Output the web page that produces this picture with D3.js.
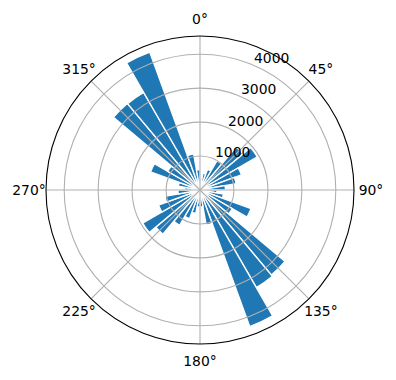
<!DOCTYPE html>
<html>
<head>
<meta charset="utf-8">
<script src="https://cdn.jsdelivr.net/npm/d3@7"></script>
<style>
  body { margin: 0; background: #fff; }
  text { font-family: "DejaVu Sans", sans-serif; font-size: 13.9px; fill: #000; }
</style>
</head>
<body>
<div id="chart"></div>
<script>
// bar centres, degrees clockwise from north (10 degree bins)
const directions = [5, 15, 25, 35, 45, 55, 65, 75, 85, 95, 105, 115,
    125, 135, 145, 155, 165, 175, 185, 195, 205, 215, 225, 235,
    245, 255, 265, 275, 285, 295, 305, 315, 325, 335, 345, 355];
// counts per bin
const counts = [350, 500, 650, 1000, 1650, 1950, 1300, 1080, 750, 500, 700, 1600,
    1100, 3270, 3320, 4280, 1050, 500, 500, 700, 900, 1200, 1700, 1950,
    1300, 1050, 650, 450, 650, 1550, 1100, 3330, 3320, 4320, 1080, 600];
const binWidth = 10;
const angleTicks = [0, 45, 90, 135, 180, 225, 270, 315];
const radialTicks = [1000, 2000, 3000, 4000];

const width = 396, height = 380;
const cx = 200, cy = 190, outer = 154;

const svg = d3.select("#chart").append("svg")
    .attr("width", width)
    .attr("height", height);

const g = svg.append("g")
    .attr("transform", `translate(${cx},${cy})`);

// radius scale, autoscaled with 5% margin like matplotlib
let r = d3.scaleLinear()
    .domain([0, d3.max(counts) * 1.05])
    .range([0, outer]);

let rad = d => d * Math.PI / 180;

// bars
let arc = d3.arc()
    .innerRadius(0)
    .outerRadius(d => r(d.value))
    .startAngle(d => rad(d.dir - binWidth / 2))
    .endAngle(d => rad(d.dir + binWidth / 2));

let bars = directions.map((d, i) => ({dir: d, value: counts[i]}));

g.selectAll(".bar")
    .data(bars)
    .enter()
    .append("path")
    .attr("class", "bar")
    .attr("d", arc)
    .attr("fill", "#1f77b4")
    .attr("stroke", "#fff")
    .attr("stroke-width", 1.4)
    .attr("stroke-linejoin", "miter");

// grid circles
g.selectAll(".rgrid")
    .data(radialTicks)
    .enter()
    .append("circle")
    .attr("class", "rgrid")
    .attr("r", d => r(d))
    .attr("fill", "none")
    .attr("stroke", "#b0b0b0")
    .attr("stroke-width", 1.1);

// spokes
g.selectAll(".tgrid")
    .data(angleTicks)
    .enter()
    .append("line")
    .attr("class", "tgrid")
    .attr("x1", 0)
    .attr("y1", 0)
    .attr("x2", d => outer * Math.sin(rad(d)))
    .attr("y2", d => -outer * Math.cos(rad(d)))
    .attr("stroke", "#b0b0b0")
    .attr("stroke-width", 1.1);

// outer spine
g.append("circle")
    .attr("r", outer)
    .attr("fill", "none")
    .attr("stroke", "#000")
    .attr("stroke-width", 1.1);

// angle labels
const labelR = outer + 17;
g.selectAll(".tlabel")
    .data(angleTicks)
    .enter()
    .append("text")
    .attr("class", "tlabel")
    .attr("x", d => labelR * Math.sin(rad(d)))
    .attr("y", d => -labelR * Math.cos(rad(d)))
    .attr("text-anchor", "middle")
    .attr("dominant-baseline", "central")
    .text(d => d + "°");

// radial labels at 22.5 degrees
const rlabelAngle = rad(22.5);
g.selectAll(".rlabel")
    .data(radialTicks)
    .enter()
    .append("text")
    .attr("class", "rlabel")
    .attr("x", d => r(d) * Math.sin(rlabelAngle) + 2)
    .attr("y", d => -r(d) * Math.cos(rlabelAngle) - 1.5)
    .attr("text-anchor", "start")
    .text(d => d);
</script>
</body>
</html>
